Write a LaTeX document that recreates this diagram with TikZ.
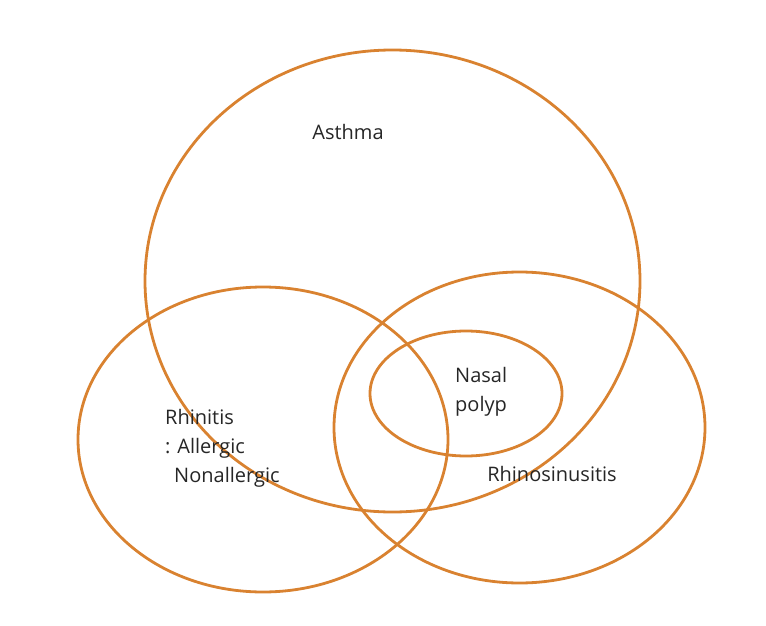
\documentclass[tikz,border=0pt]{standalone}
\usepackage{fontspec}
\setmainfont{Open Sans}
\definecolor{vorange}{HTML}{D98230}
\begin{document}
\begin{tikzpicture}[x=1pt,y=-1pt,
  setring/.style={draw=vorange,line width=2.8pt},
  lbl/.style={font=\fontsize{20}{29}\selectfont,text=black!85,inner sep=0pt}]
\useasboundingbox (0,0) rectangle (766,626);
\draw[setring] (392.5,281) ellipse [x radius=247.5,y radius=231];
\draw[setring] (263,439.5) ellipse [x radius=185,y radius=152.5];
\draw[setring] (519.5,427.5) ellipse [x radius=185.5,y radius=155.5];
\draw[setring] (466,393.5) ellipse [x radius=96,y radius=62.5];
\node[lbl] (asthma) at (348,132) {Asthma};
\node[lbl,align=left,anchor=north west] (rhinitis) at (165,409) {Rhinitis\\: Allergic\\\hspace*{0.45em}Nonallergic};
\node[lbl,align=left,anchor=north west] (polyp) at (455,367) {Nasal\\polyp};
\node[lbl] (rhinosin) at (552,474) {Rhinosinusitis};
\end{tikzpicture}
\end{document}
